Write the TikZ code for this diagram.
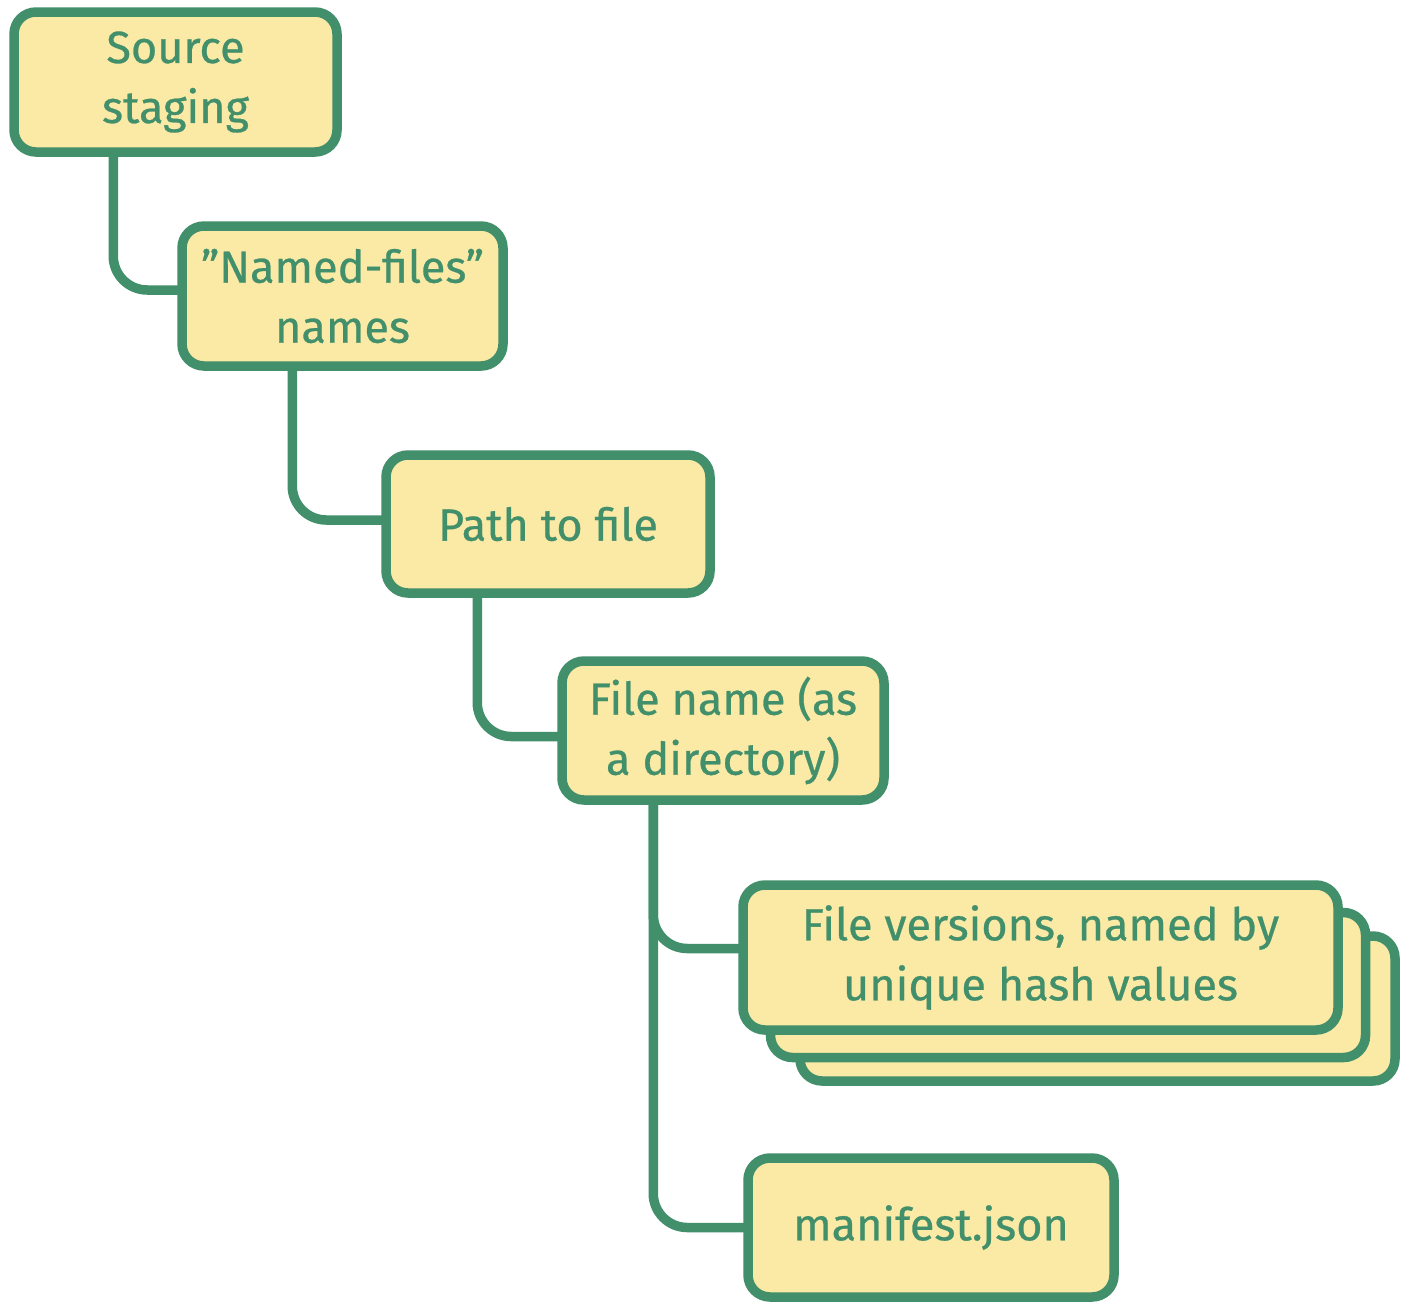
\documentclass[tikz,border=0pt]{standalone}
\usepackage{fontspec}
\setmainfont{Fira Sans}[FakeBold=0.6]
\usetikzlibrary{backgrounds,calc}
\definecolor{stk}{HTML}{428F6B}
\definecolor{fil}{HTML}{FBEAA5}
\tikzset{
  box/.style={draw=stk, fill=fil, line width=9.5pt, rounded corners=22pt, align=center,
    text=stk, font=\fontsize{45}{60}\selectfont, inner sep=0pt},
  link/.style={draw=stk, line width=9.5pt, rounded corners=34pt, line cap=round}
}
\begin{document}
\begin{tikzpicture}[x=1pt,y=-1pt]
\useasboundingbox (0,0) rectangle (1410,1312);
\node[box, minimum width=323pt, minimum height=140pt] (n1) at (175.5,82) {Source\\staging};
\node[box, minimum width=321pt, minimum height=140pt] (n2) at (342.5,296) {\symbol{34}Named-files\symbol{34}\\names};
\node[box, minimum width=324pt, minimum height=138pt] (n3) at (548,524) {Path to file};
\node[box, minimum width=322pt, minimum height=139pt] (n4) at (723,730.5) {File name (as\\a directory)};
\node[box, minimum width=595pt, minimum height=145pt] (n5c) at (1097.5,1008.5) {};
\node[box, minimum width=595pt, minimum height=145pt] (n5b) at (1068,985) {};
\node[box, minimum width=595pt, minimum height=145pt] (n5) at (1040.5,957.5) {File versions, named by\\unique hash values};
\node[box, minimum width=366pt, minimum height=139pt] (n6) at (931,1227.5) {manifest.json};
\begin{pgfonlayer}{background}
\draw[link] ([xshift=104pt]n1.south west) |- ([yshift=6pt]n2.west);
\draw[link] ([xshift=115pt]n2.south west) |- ([yshift=4pt]n3.west);
\draw[link] ([xshift=96pt]n3.south west) |- ([yshift=-6pt]n4.west);
\draw[link] ([xshift=96pt]n4.south west) |- ([yshift=9pt]n5.west);
\draw[link] ([xshift=96pt]n4.south west) |- (n6.west);
\end{pgfonlayer}
\end{tikzpicture}
\end{document}
